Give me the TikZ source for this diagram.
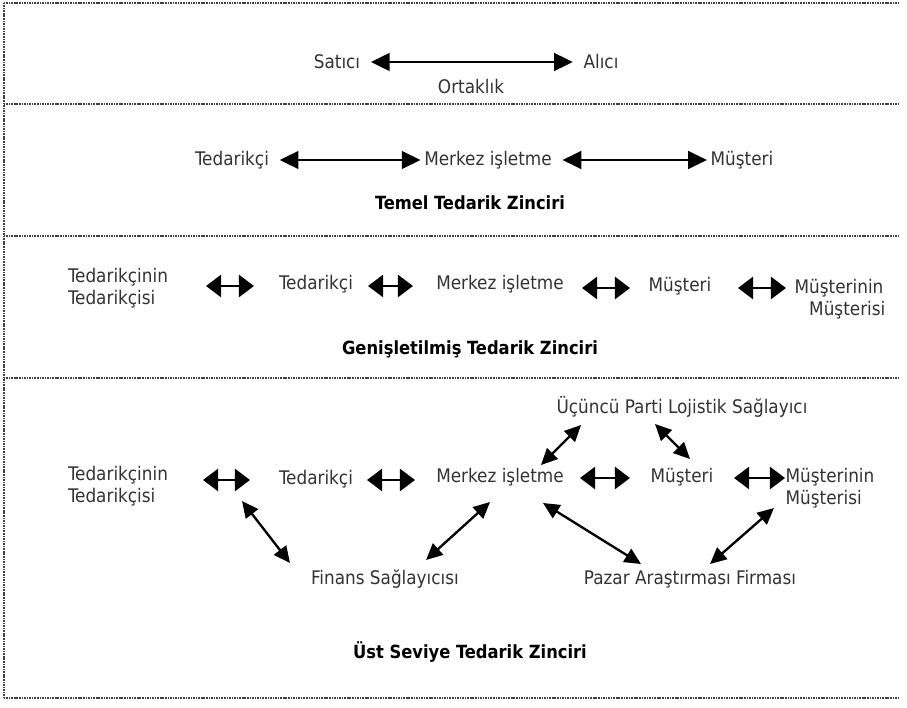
\documentclass[tikz,border=0pt]{standalone}
\usepackage{fontspec}
\setmainfont{DejaVu Sans Condensed}
\usepackage{tikz}
\usetikzlibrary{arrows.meta}

\begin{document}
\begin{tikzpicture}[
  x=0.03cm, y=-0.03cm,
  every node/.style={font=\fontsize{16}{18.5}\selectfont, text=black!80, inner sep=1pt},
  ttl/.style={font=\fontsize{15.5}{18}\selectfont\bfseries, text=black},
  twoln/.style={align=left},
  frame/.style={line width=1.6pt, black!75, dash pattern=on 0.9pt off 0.5pt},
  bigarr/.style={{Triangle[length=16pt,width=15pt]}-{Triangle[length=16pt,width=15pt]}, line width=2.4pt},
  medarr/.style={{Triangle[length=13pt,width=19pt]}-{Triangle[length=13pt,width=19pt]}, line width=2.2pt},
  diarr/.style={{Triangle[length=14pt,width=13pt]}-{Triangle[length=14pt,width=13pt]}, line width=2pt}
]
\useasboundingbox (0,0) rectangle (907,707);

%% -- frame --------------------------------------------------
\draw[frame] (4,3) -- (4,698);
\foreach \yy in {3,104,236,378,698}
  \draw[frame] (4,\yy) -- (898,\yy);

%% -- Panel 1 ------------------------------------------------
\node (satici) at (337,62) {Satıcı};
\node (alici)  at (601,62) {Alıcı};
\node (ortak)  at (471,87) {Ortaklık};
\draw[bigarr] ([xshift=8]satici.east) -- ([xshift=-8]alici.west);

%% -- Panel 2 ------------------------------------------------
\node (ted2)  at (232,160) {Tedarikçi};
\node (mrk2)  at (488,160) {Merkez işletme};
\node (mus2)  at (742,160) {Müşteri};
\node[ttl] (temel) at (470,203) {Temel Tedarik Zinciri};
\draw[bigarr] ([xshift=8]ted2.east) -- ([xshift=-2]mrk2.west);
\draw[bigarr] ([xshift=8]mrk2.east) -- ([xshift=-2]mus2.west);

%% -- Panel 3 ------------------------------------------------
\node[twoln] (tt3)  at (118,288) {Tedarikçinin\\Tedarikçisi};
\node (ted3)  at (316,284) {Tedarikçi};
\node (mrk3)  at (500,284) {Merkez işletme};
\node (mus3)  at (680,286) {Müşteri};
\node[twoln] (mm3)  at (840,299) {Müşterinin\\\phantom{M}Müşterisi};
\node[ttl] (genis) at (470,349) {Genişletilmiş Tedarik Zinciri};
\draw[medarr] (206,286) -- (254,286);
\draw[medarr] (368,286) -- (413,286);
\draw[medarr] (582,288) -- (630,288);
\draw[medarr] (738,288) -- (786,288);

%% -- Panel 4 ------------------------------------------------
\node (lojis) at (682,407) {Üçüncü Parti Lojistik Sağlayıcı};
\node[twoln] (tt4)  at (118,486) {Tedarikçinin\\Tedarikçisi};
\node (ted4)  at (316,479) {Tedarikçi};
\node (mrk4)  at (500,477) {Merkez işletme};
\node (mus4)  at (682,477) {Müşteri};
\node[twoln] (mm4)  at (830,488) {Müşterinin\\Müşterisi};
\node (finans) at (385,579) {Finans Sağlayıcısı};
\node (pazar)  at (690,579) {Pazar Araştırması Firması};
\node[ttl] (ust) at (470,652) {Üst Seviye Tedarik Zinciri};

\draw[medarr] (203,480) -- (250,480);
\draw[medarr] (367,480) -- (415,480);
\draw[medarr] (580,478) -- (630,478);
\draw[medarr] (734,478) -- (785,478);

\draw[diarr] (242,501) -- (290,563);
\draw[diarr] (490,502) -- (426,560);
\draw[diarr] (541,465) -- (581,425);
\draw[diarr] (655,424) -- (690,459);
\draw[diarr] (543,503) -- (641,564);
\draw[diarr] (774,508) -- (710,564);

\end{tikzpicture}
\end{document}
